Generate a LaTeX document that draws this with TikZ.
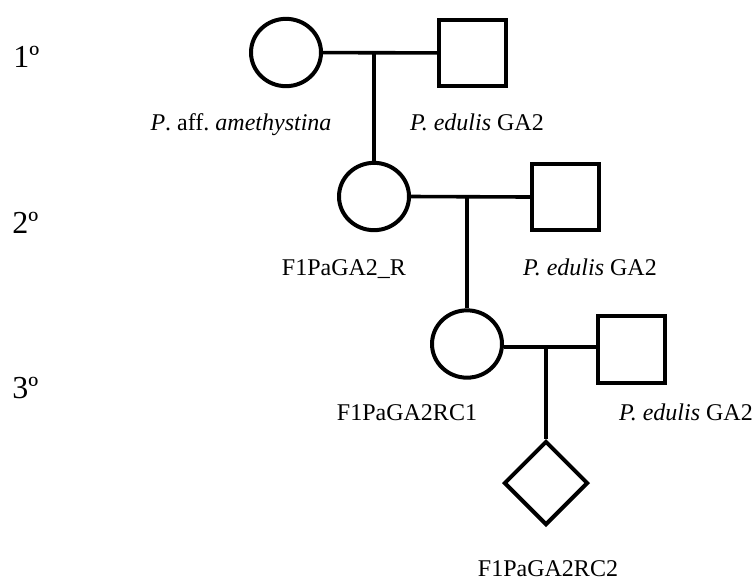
\documentclass[tikz,border=0pt]{standalone}
\usepackage{fontspec}
\setmainfont{Liberation Serif}
\usetikzlibrary{shapes.geometric}
\frenchspacing
\begin{document}
\begin{tikzpicture}[x=0.75pt,y=-0.75pt,
  female/.style={draw,line width=3pt,fill=white,ellipse,inner sep=0pt,minimum width=52.5pt,minimum height=50.5pt},
  male/.style={draw,line width=3.1pt,fill=white,rectangle,inner sep=0pt,minimum width=50.5pt,minimum height=50pt},
  unknown/.style={draw,line width=3pt,fill=white,diamond,aspect=1,inner sep=0pt,minimum width=63pt,minimum height=63pt},
  link/.style={line width=2.7pt},
  lbl/.style={anchor=base,inner sep=0pt,font=\fontsize{18pt}{21pt}\selectfont},
  gen/.style={anchor=base west,inner sep=0pt,font=\fontsize{24pt}{28pt}\selectfont}]
\useasboundingbox (0,0) rectangle (755,583);
% generation labels
\node[gen] (g1) at (13,67) {1º};
\node[gen] (g2) at (12,233) {2º};
\node[gen] (g3) at (12,398) {3º};
% generation 1
\node[female] (c1) at (286,52.5) {};
\node[male] (s1) at (472.5,53) {};
\coordinate (m1) at (374,53);
% generation 2
\node[female] (c2) at (374,196.5) {};
\node[male] (s2) at (565.5,197) {};
\coordinate (m2) at (467,197);
% generation 3
\node[female] (c3) at (467,344) {};
\node[male] (s3) at (631.5,349.5) {};
\coordinate (m3) at (546,347);
% offspring
\node[unknown] (d4) at (546,483) {};
% connectors
\draw[link] (c1) -- (s1);
\draw[link] (m1) -- (c2);
\draw[link] (c2.east) -- (s2.west);
\draw[link] (m2) -- (c3);
\draw[link] (c3.east |- m3) -- (s3.west |- m3);
\draw[link] (m3) -- (d4);
% labels
\node[lbl] (l1) at (241,130) {\textit{P}. aff. \textit{amethystina}};
\node[lbl] (l2) at (477,130) {\textit{P. edulis} GA2};
\node[lbl] (l3) at (344,275) {F1PaGA2\_R};
\node[lbl] (l4) at (590,275) {\textit{P. edulis} GA2};
\node[lbl] (l5) at (407,420) {F1PaGA2RC1};
\node[lbl] (l6) at (686,420) {\textit{P. edulis} GA2};
\node[lbl] (l7) at (548,576) {F1PaGA2RC2};
\end{tikzpicture}
\end{document}
